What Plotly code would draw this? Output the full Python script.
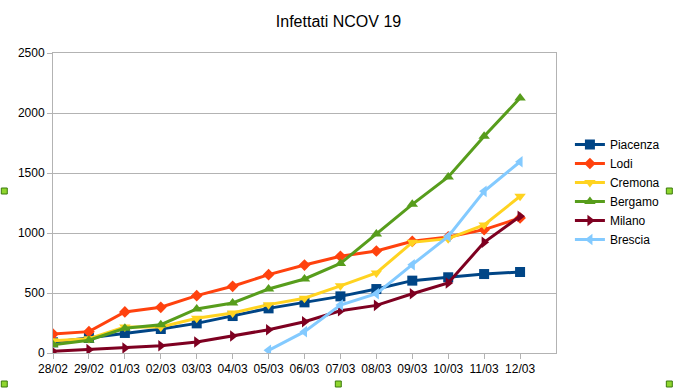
import plotly.graph_objects as go

dates = ["28/02", "29/02", "01/03", "02/03", "03/03", "04/03", "05/03",
         "06/03", "07/03", "08/03", "09/03", "10/03", "11/03", "12/03"]

piacenza = [89, 125, 167, 200, 247, 308, 372, 422, 472, 533, 603, 631, 658, 675]
lodi = [158, 178, 342, 381, 478, 556, 653, 733, 806, 850, 931, 967, 1028, 1125]
cremona = [103, 119, 217, 217, 289, 333, 403, 456, 560, 667, 922, 953, 1067, 1306]
bergamo = [69, 106, 206, 236, 367, 417, 533, 617, 746, 992, 1239, 1467, 1806, 2125]
milano = [14, 28, 42, 61, 92, 142, 194, 261, 352, 397, 494, 583, 922, 1139]
brescia = [None, None, None, None, None, None, 22, 178, 400, 494, 736, 972, 1347, 1594]

series = [
    ("Piacenza", piacenza, "#004586", "square"),
    ("Lodi", lodi, "#ff420e", "diamond"),
    ("Cremona", cremona, "#ffd320", "triangle-down"),
    ("Bergamo", bergamo, "#579d1c", "triangle-up"),
    ("Milano", milano, "#7e0021", "triangle-right"),
    ("Brescia", brescia, "#83caff", "triangle-left"),
]

fig = go.Figure()
for name, vals, color, sym in series:
    fig.add_trace(go.Scatter(
        x=dates, y=vals, name=name, mode="lines+markers",
        line=dict(color=color, width=3),
        marker=dict(symbol=sym, size=10 if sym != "diamond" else 9, color=color),
        connectgaps=False,
    ))

W, H = 677, 388
L, R, T, B = 53, 118, 53, 35
pw, ph = W - L - R, H - T - B

def px(x):
    return (x - L) / pw

def py(y):
    return (H - B - y) / ph

shapes = []
for hx, hy in [(4, 191), (673, 191), (4, 384), (340, 384), (673, 384)]:
    shapes.append(dict(type="rect", xref="paper", yref="paper",
                       x0=px(hx - 3), x1=px(hx + 3), y0=py(hy + 3), y1=py(hy - 3),
                       fillcolor="#8fd62e", line=dict(color="#3b7a0c", width=1)))

fig.update_layout(
    width=W, height=H,
    margin=dict(l=L, r=R, t=T, b=B),
    paper_bgcolor="white", plot_bgcolor="white",
    font=dict(family="Liberation Sans, Arial, sans-serif", size=12, color="#000000"),
    title=dict(text="Infettati NCOV 19", x=0.5, xref="container", xanchor="center",
               y=1 - 21 / H, yanchor="middle",
               font=dict(size=16, family="Liberation Sans, Arial, sans-serif", color="#000000")),
    xaxis=dict(
        type="category", range=[0, 14],
        showgrid=False, showline=True, linecolor="#b3b3b3", linewidth=1,
        mirror=True, ticks="outside", ticklen=5, tickcolor="#b3b3b3",
        tickfont=dict(size=12), zeroline=False,
    ),
    yaxis=dict(
        range=[0, 2500], dtick=500, showgrid=True, gridcolor="#b3b3b3", gridwidth=1,
        showline=True, linecolor="#b3b3b3", linewidth=1, mirror=True,
        ticks="outside", ticklen=5, tickcolor="#b3b3b3", zeroline=False,
        tickfont=dict(size=12),
    ),
    legend=dict(x=px(573), xanchor="left", y=py(130), yanchor="top",
                font=dict(size=12), bgcolor="rgba(0,0,0,0)",
                itemwidth=30, tracegroupgap=0),
    shapes=shapes,
    showlegend=True,
)

fig.write_html("out.html", config={"displayModeBar": False},
               post_script="document.body.style.margin='0';")
